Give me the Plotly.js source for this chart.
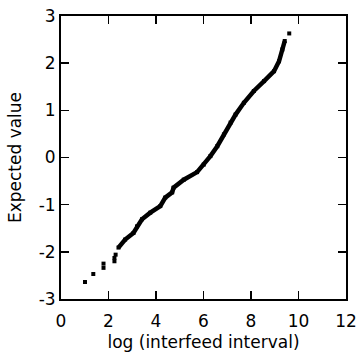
<!DOCTYPE html>
<html>
<head>
<meta charset="utf-8">
<script src="https://cdn.plot.ly/plotly-3.0.1.min.js"></script>
<style>html,body{margin:0;padding:0;background:#fff;}#chart{width:359px;height:356px;}</style>
</head>
<body>
<div id="chart"></div>
<script>
// Isolated points at the tails
const tailX = [1.01, 1.36, 1.79, 1.79, 2.25, 2.25, 2.30, 9.61];
const tailY = [-2.64, -2.47, -2.25, -2.34, -2.13, -2.20, -2.06, 2.63];

// Dense band of points (log interfeed interval vs expected normal value)
const bandX = [2.42, 2.70, 3.05, 3.20, 3.41, 3.76, 4.18, 4.39, 4.68, 4.74, 5.17, 5.73, 6.01, 6.29, 6.58, 6.86, 7.14, 7.35, 7.70, 8.12, 8.55, 8.97, 9.18, 9.32, 9.42];
const bandY = [-1.91, -1.74, -1.60, -1.46, -1.31, -1.17, -1.03, -0.85, -0.74, -0.64, -0.47, -0.31, -0.15, 0.03, 0.24, 0.49, 0.74, 0.91, 1.16, 1.41, 1.62, 1.83, 2.04, 2.29, 2.47];

const xTicks = [0, 2, 4, 6, 8, 10, 12];
const yTicks = [-3, -2, -1, 0, 1, 2, 3];
const xTitle = 'log (interfeed interval)';
const yTitle = 'Expected value';

const font = {family: 'DejaVu Sans, Arial, sans-serif', size: 17, color: '#000'};

const traces = [
  {x: bandX, y: bandY, mode: 'lines+markers', type: 'scatter',
   line: {color: '#000', width: 4.5},
   marker: {color: '#000', size: 4, symbol: 'square'},
   hoverinfo: 'skip', showlegend: false},
  {x: tailX, y: tailY, mode: 'markers', type: 'scatter',
   marker: {color: '#000', size: 4, symbol: 'square'},
   hoverinfo: 'skip', showlegend: false}
];

const axisCommon = {
  showline: true, linecolor: '#000', linewidth: 2, mirror: 'ticks',
  ticks: 'inside', ticklen: 8, tickwidth: 1.5, tickcolor: '#000',
  showgrid: false, zeroline: false, tickfont: font, tickmode: 'array'
};

const layout = {
  width: 359, height: 356,
  margin: {l: 61, r: 13, t: 16, b: 57, pad: 0},
  paper_bgcolor: '#fff', plot_bgcolor: '#fff',
  font: font,
  xaxis: Object.assign({}, axisCommon, {
    range: [0, 12], tickvals: xTicks, ticktext: xTicks.map(String),
    ticklabelstandoff: 6,
    title: {text: xTitle, font: font, standoff: 6}
  }),
  yaxis: Object.assign({}, axisCommon, {
    range: [-3, 3], tickvals: yTicks, ticktext: yTicks.map(String),
    title: {text: yTitle, font: font, standoff: 13}
  })
};

Plotly.newPlot('chart', traces, layout, {staticPlot: true, displayModeBar: false});
</script>
</body>
</html>
